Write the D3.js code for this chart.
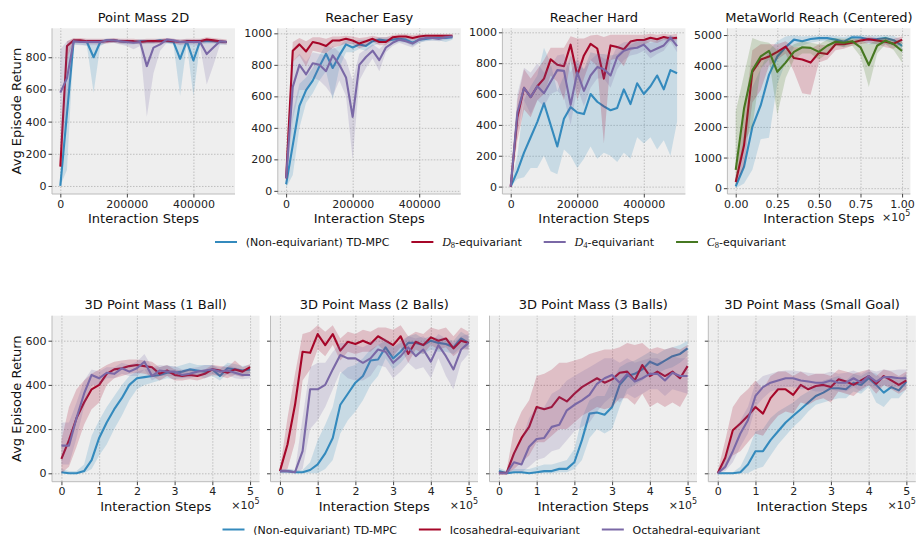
<!DOCTYPE html>
<html lang="en">
<head>
<meta charset="UTF-8" />
<title>Equivariant TD-MPC learning curves</title>
<script src="https://cdn.jsdelivr.net/npm/d3@7"></script>
<style>
  body { margin: 0; background: #fff; }
  svg { font-family: "DejaVu Sans", sans-serif; }
  .band { stroke: none; opacity: 0.2; }
  .data-line { fill: none; stroke-width: 2.1px; stroke-linejoin: round; }
  .grid line { stroke: #b2b2b2; stroke-width: 0.8px; stroke-dasharray: 1.5, 1.5; }
  .grid .domain, .axis .domain { display: none; }
  .axis line { stroke: #444; }
  .axis text { font-family: "DejaVu Sans", sans-serif; font-size: 11px; fill: #222; }
  .title, .label { font-size: 13px; fill: #111; }
  .legend text { font-size: 11px; fill: #111; }
</style>
</head>
<body>
<script>
// x positions of the evaluation points
var stepsTop = [0, 20000, 40000, 60000, 80000, 100000, 120000, 140000, 160000, 180000, 200000, 220000, 240000,
  260000, 280000, 300000, 320000, 340000, 360000, 380000, 400000, 420000, 440000, 460000, 480000, 500000];
var stepsMW = [0, 0.05, 0.1, 0.15, 0.2, 0.25, 0.3, 0.35, 0.4, 0.45, 0.5, 0.55, 0.6, 0.65, 0.7, 0.75, 0.8, 0.85,
  0.9, 0.95, 1.0];
var stepsBottom = [0, 0.2, 0.4, 0.6, 0.8, 1.0, 1.2, 1.4, 1.6, 1.8, 2.0, 2.2, 2.4, 2.6, 2.8, 3.0, 3.2, 3.4, 3.6,
  3.8, 4.0, 4.2, 4.4, 4.6, 4.8, 5.0];

// Point Mass 2D
var pm2dTd = [0, 450, 900, 900, 895, 800, 895, 905, 905, 900, 895, 895, 900, 900, 900, 905, 900, 895, 790, 900, 780, 900, 900, 900, 895, 895];
var pm2dTdLo = [0, 100, 880, 880, 870, 580, 870, 890, 890, 885, 880, 880, 885, 885, 885, 890, 885, 880, 560, 880, 560, 880, 885, 885, 880, 880];
var pm2dTdHi = [10, 800, 915, 910, 905, 905, 905, 915, 915, 910, 905, 905, 910, 910, 910, 915, 910, 905, 905, 910, 905, 910, 910, 910, 905, 905];
var pm2dD8 = [120, 870, 905, 905, 900, 900, 900, 900, 905, 900, 900, 900, 895, 900, 900, 900, 905, 900, 895, 900, 900, 900, 910, 905, 900, 895];
var pm2dD8Lo = [100, 800, 890, 890, 885, 885, 885, 885, 890, 885, 885, 885, 880, 885, 885, 885, 890, 885, 880, 885, 885, 885, 895, 890, 885, 880];
var pm2dD8Hi = [140, 900, 920, 920, 915, 915, 915, 915, 920, 915, 915, 915, 910, 915, 915, 915, 920, 915, 910, 915, 915, 915, 925, 920, 915, 910];
var pm2dD4 = [580, 670, 900, 895, 895, 895, 895, 905, 905, 900, 895, 890, 895, 745, 860, 880, 910, 905, 895, 895, 895, 895, 820, 860, 900, 895];
var pm2dD4Lo = [200, 450, 880, 875, 875, 875, 875, 890, 890, 880, 870, 850, 870, 430, 700, 840, 890, 885, 875, 875, 875, 870, 630, 750, 880, 880];
var pm2dD4Hi = [850, 900, 915, 910, 910, 910, 910, 915, 915, 910, 910, 905, 910, 905, 900, 910, 920, 915, 910, 910, 910, 910, 905, 905, 910, 905];

// Reacher Easy
var reTd = [42, 290, 540, 640, 700, 790, 870, 780, 860, 930, 910, 930, 920, 950, 960, 955, 960, 965, 960, 940, 960, 965, 970, 970, 970, 975];
var reTdLo = [20, 100, 400, 560, 620, 700, 760, 580, 780, 880, 880, 900, 890, 920, 935, 940, 940, 945, 940, 920, 940, 950, 955, 955, 945, 960];
var reTdHi = [70, 500, 680, 720, 780, 860, 930, 900, 920, 960, 950, 960, 960, 970, 975, 975, 975, 980, 980, 970, 975, 980, 985, 985, 985, 985];
var reD8 = [80, 890, 930, 885, 945, 935, 920, 955, 955, 965, 955, 935, 950, 965, 945, 945, 975, 980, 980, 970, 980, 985, 985, 985, 985, 985];
var reD8Lo = [40, 820, 860, 790, 890, 880, 870, 910, 920, 935, 930, 905, 920, 945, 925, 925, 960, 965, 965, 955, 965, 975, 975, 975, 975, 975];
var reD8Hi = [180, 945, 970, 950, 975, 975, 965, 980, 980, 985, 980, 970, 975, 985, 975, 975, 990, 995, 995, 990, 995, 995, 995, 995, 995, 995];
var reD4 = [80, 660, 800, 740, 810, 800, 760, 860, 800, 720, 470, 800, 850, 890, 830, 910, 940, 960, 950, 935, 960, 970, 970, 965, 975, 980];
var reD4Lo = [40, 450, 640, 640, 720, 700, 660, 600, 700, 600, 200, 700, 780, 840, 760, 880, 920, 940, 925, 910, 940, 955, 955, 950, 960, 965];
var reD4Hi = [200, 820, 870, 820, 880, 870, 860, 920, 880, 830, 700, 870, 900, 930, 900, 940, 965, 975, 970, 955, 975, 985, 985, 980, 990, 990];

// Reacher Hard
var rhTd = [0, 100, 220, 320, 420, 540, 400, 260, 440, 515, 480, 470, 600, 550, 520, 495, 510, 630, 535, 670, 600, 650, 720, 630, 755, 735];
var rhTdLo = [0, 50, 60, 120, 120, 200, 100, 80, 240, 200, 120, 180, 260, 180, 220, 200, 160, 220, 180, 320, 280, 320, 240, 300, 200, 420];
var rhTdHi = [10, 200, 560, 650, 720, 900, 800, 620, 720, 850, 800, 760, 870, 860, 860, 850, 860, 900, 920, 940, 950, 960, 960, 960, 980, 970];
var rhD8 = [0, 450, 640, 580, 650, 700, 825, 790, 780, 920, 720, 850, 925, 895, 700, 915, 905, 890, 940, 950, 950, 965, 955, 970, 960, 965];
var rhD8Lo = [0, 300, 500, 450, 560, 600, 720, 680, 560, 820, 560, 700, 820, 780, 280, 820, 830, 780, 880, 900, 920, 940, 930, 950, 940, 950];
var rhD8Hi = [10, 560, 760, 700, 760, 820, 900, 900, 900, 975, 960, 960, 980, 985, 970, 985, 985, 985, 985, 985, 985, 990, 985, 990, 985, 990];
var rhD4 = [0, 480, 640, 580, 650, 605, 680, 755, 750, 530, 740, 620, 720, 775, 760, 720, 840, 880, 895, 900, 920, 875, 895, 915, 965, 910];
var rhD4Lo = [0, 350, 560, 470, 560, 520, 600, 620, 580, 400, 640, 520, 640, 700, 700, 640, 760, 820, 850, 860, 880, 830, 860, 880, 940, 870];
var rhD4Hi = [10, 600, 770, 740, 800, 740, 780, 850, 860, 740, 830, 760, 820, 860, 830, 820, 910, 935, 940, 945, 955, 930, 945, 955, 985, 950];

// MetaWorld Reach (Centered)
var mwTd = [60, 700, 2000, 2700, 3700, 4300, 4600, 4850, 4800, 4870, 4900, 4900, 4850, 4780, 4930, 4920, 4850, 4870, 4900, 4830, 4650];
var mwTdLo = [0, 150, 600, 1600, 1650, 3400, 4100, 4600, 4650, 4750, 4800, 4800, 4700, 4600, 4800, 4800, 4700, 4700, 4700, 4650, 4450];
var mwTdHi = [200, 1800, 3300, 3900, 4500, 4800, 4950, 4990, 4950, 4970, 4980, 4990, 4970, 4940, 5000, 5000, 4980, 4980, 4990, 4970, 4850];
var mwD8 = [200, 1400, 3800, 4200, 4300, 4450, 4620, 4250, 4200, 4100, 4420, 4380, 4700, 4700, 4750, 4820, 4860, 4820, 4780, 4720, 4850];
var mwD8Lo = [100, 700, 2800, 3200, 4000, 4200, 4400, 3800, 3100, 3050, 4100, 4200, 4500, 4550, 4650, 4700, 4750, 4700, 4600, 4550, 4750];
var mwD8Hi = [400, 2400, 4500, 4700, 4700, 4700, 4800, 4600, 4600, 4550, 4700, 4650, 4850, 4850, 4850, 4900, 4950, 4900, 4900, 4880, 4950];
var mwC8 = [600, 2600, 3850, 4300, 4480, 3800, 4100, 4450, 4600, 4580, 4450, 4650, 4780, 4750, 4800, 4600, 4020, 4650, 4820, 4700, 4480];
var mwC8Lo = [100, 1500, 2000, 3900, 4200, 2400, 3600, 4200, 4400, 4400, 4200, 4400, 4650, 4600, 4650, 4300, 3300, 4400, 4700, 4500, 4100];
var mwC8Hi = [2500, 3700, 4900, 4800, 4750, 4500, 4500, 4700, 4800, 4750, 4700, 4850, 4900, 4880, 4900, 4850, 4700, 4850, 4950, 4850, 4800];

// 3D Point Mass (1 Ball)
var b1Td = [5, 0, 0, 10, 60, 160, 230, 290, 340, 400, 430, 435, 440, 445, 455, 455, 460, 470, 465, 460, 470, 440, 475, 470, 465, 470];
var b1TdLo = [0, 0, 0, 0, 20, 80, 130, 200, 260, 330, 380, 400, 410, 420, 430, 425, 430, 440, 440, 430, 440, 420, 450, 445, 440, 445];
var b1TdHi = [20, 10, 10, 40, 170, 240, 300, 350, 400, 440, 460, 470, 475, 480, 490, 480, 490, 500, 490, 490, 490, 470, 500, 495, 485, 490];
var b1Ico = [65, 150, 250, 320, 380, 400, 450, 470, 475, 485, 490, 485, 480, 450, 465, 445, 440, 445, 440, 450, 470, 465, 455, 470, 460, 480];
var b1IcoLo = [0, 30, 120, 220, 290, 320, 400, 430, 440, 450, 455, 450, 440, 420, 440, 420, 420, 425, 420, 430, 445, 440, 430, 445, 435, 455];
var b1IcoHi = [150, 300, 380, 420, 450, 470, 490, 505, 510, 515, 515, 510, 505, 480, 490, 470, 465, 470, 460, 470, 490, 485, 480, 510, 480, 495];
var b1Oct = [125, 125, 250, 360, 445, 430, 455, 450, 475, 460, 475, 505, 440, 465, 460, 460, 445, 450, 460, 465, 470, 460, 465, 455, 445, 445];
var b1OctLo = [40, 40, 160, 300, 400, 400, 430, 430, 450, 440, 440, 470, 420, 440, 440, 440, 430, 430, 440, 445, 450, 440, 445, 430, 425, 430];
var b1OctHi = [230, 230, 320, 420, 470, 460, 480, 480, 500, 490, 505, 540, 480, 490, 485, 485, 470, 475, 480, 490, 490, 480, 490, 480, 470, 470];

// 3D Point Mass (2 Balls)
var b2Td = [10, 10, 5, 5, 15, 40, 90, 160, 310, 360, 410, 440, 510, 515, 570, 520, 550, 590, 590, 580, 600, 590, 585, 570, 610, 590];
var b2TdLo = [0, 0, 0, 0, 0, 0, 20, 60, 180, 240, 280, 330, 400, 440, 520, 470, 500, 540, 540, 540, 560, 550, 550, 540, 570, 560];
var b2TdHi = [20, 20, 15, 15, 50, 150, 220, 300, 450, 480, 490, 520, 560, 580, 600, 570, 590, 620, 630, 610, 620, 610, 610, 600, 640, 620];
var b2Ico = [10, 130, 310, 550, 545, 630, 580, 630, 555, 595, 585, 600, 585, 620, 600, 580, 620, 540, 595, 580, 615, 600, 610, 565, 600, 590];
var b2IcoLo = [0, 20, 140, 420, 470, 560, 530, 580, 510, 550, 540, 550, 550, 580, 550, 530, 570, 500, 560, 540, 580, 560, 570, 530, 560, 560];
var b2IcoHi = [20, 250, 450, 630, 640, 670, 640, 670, 610, 640, 630, 650, 640, 660, 660, 650, 670, 620, 640, 630, 660, 650, 660, 620, 660, 640];
var b2Oct = [10, 10, 5, 100, 380, 380, 400, 470, 535, 520, 520, 500, 520, 560, 550, 500, 530, 570, 530, 560, 505, 580, 530, 470, 560, 590];
var b2OctLo = [0, 0, 0, 20, 200, 240, 300, 380, 460, 430, 420, 420, 440, 490, 480, 430, 460, 500, 470, 480, 430, 520, 440, 380, 500, 540];
var b2OctHi = [20, 20, 15, 250, 480, 500, 500, 550, 590, 590, 580, 570, 590, 610, 610, 570, 600, 620, 610, 620, 590, 630, 610, 590, 620, 630];

// 3D Point Mass (3 Balls)
var b3Td = [10, 0, 5, 5, 0, 5, 10, 10, 20, 20, 50, 150, 270, 275, 265, 300, 400, 440, 450, 470, 505, 490, 510, 530, 540, 565];
var b3TdLo = [0, 0, 0, 0, 0, 0, 0, 0, 5, 5, 20, 60, 160, 200, 180, 200, 300, 380, 400, 420, 450, 450, 470, 480, 500, 530];
var b3TdHi = [25, 10, 20, 20, 20, 30, 40, 40, 50, 60, 110, 250, 330, 350, 350, 420, 480, 500, 510, 530, 550, 540, 560, 570, 580, 600];
var b3Ico = [0, 0, 90, 160, 210, 300, 290, 300, 345, 325, 360, 390, 410, 430, 410, 425, 455, 460, 420, 490, 440, 460, 440, 460, 430, 485];
var b3IcoLo = [0, 0, 20, 50, 80, 140, 140, 170, 200, 200, 230, 260, 280, 300, 290, 300, 340, 340, 310, 360, 300, 320, 300, 320, 300, 360];
var b3IcoHi = [10, 10, 200, 280, 330, 440, 450, 470, 500, 500, 510, 520, 540, 550, 560, 560, 570, 590, 580, 590, 560, 570, 560, 570, 560, 580];
var b3Oct = [0, 0, 50, 40, 120, 155, 160, 210, 220, 285, 310, 330, 355, 405, 430, 445, 410, 450, 415, 430, 450, 450, 420, 455, 440, 440];
var b3OctLo = [0, 0, 10, 5, 30, 60, 70, 100, 110, 150, 190, 210, 230, 280, 320, 350, 320, 360, 340, 360, 380, 380, 350, 380, 370, 360];
var b3OctHi = [10, 10, 100, 150, 250, 300, 300, 360, 380, 420, 440, 460, 480, 500, 520, 520, 500, 520, 500, 510, 520, 520, 500, 530, 520, 520];

// 3D Point Mass (Small Goal)
var sgTd = [0, 0, 0, 5, 40, 100, 100, 150, 190, 230, 260, 290, 320, 350, 365, 385, 385, 380, 410, 400, 430, 400, 365, 390, 375, 415];
var sgTdLo = [0, 0, 0, 0, 0, 20, 30, 80, 130, 170, 210, 240, 280, 310, 320, 330, 340, 340, 370, 360, 390, 320, 300, 340, 340, 380];
var sgTdHi = [5, 5, 5, 30, 100, 190, 200, 250, 280, 300, 320, 350, 370, 390, 420, 430, 440, 420, 450, 440, 460, 450, 420, 440, 420, 450];
var sgIco = [0, 70, 195, 225, 260, 300, 270, 340, 380, 380, 355, 400, 380, 395, 400, 390, 425, 415, 400, 420, 440, 405, 440, 420, 400, 420];
var sgIcoLo = [0, 20, 80, 100, 140, 180, 170, 220, 260, 280, 270, 320, 310, 330, 340, 320, 370, 360, 350, 380, 400, 360, 400, 380, 360, 380];
var sgIcoHi = [10, 150, 300, 350, 380, 420, 380, 440, 460, 460, 440, 460, 440, 450, 450, 440, 470, 460, 450, 460, 470, 440, 470, 460, 440, 460];
var sgOct = [0, 30, 100, 180, 240, 350, 390, 410, 420, 430, 430, 420, 415, 410, 410, 420, 410, 410, 430, 410, 440, 415, 435, 435, 430, 430];
var sgOctLo = [0, 10, 50, 120, 180, 300, 340, 370, 380, 390, 390, 380, 380, 370, 370, 380, 370, 370, 390, 370, 400, 380, 400, 390, 390, 390];
var sgOctHi = [5, 70, 180, 240, 300, 410, 440, 450, 460, 465, 465, 460, 455, 450, 450, 460, 450, 455, 465, 450, 470, 460, 470, 465, 470, 470];

var blue = "#348ABD", red = "#A60628", purple = "#7A68A6", green = "#467821";

var w = 917;
var h = 535;

var topRow = {top: 28.3, height: 165.7, width: 183};
var bottomRow = {top: 315.7, height: 166, width: 207.5};

var panels = [
  {title: "Point Mass 2D", row: topRow, left: 52, x: stepsTop, xDomain: [-25000, 525000], yDomain: [-50, 980],
    xTicks: [0, 200000, 400000], yTicks: [0, 200, 400, 600, 800], xFormat: d3.format("d"), yLabels: true,
    series: [[blue, pm2dTd, pm2dTdLo, pm2dTdHi], [red, pm2dD8, pm2dD8Lo, pm2dD8Hi], [purple, pm2dD4, pm2dD4Lo, pm2dD4Hi]]},
  {title: "Reacher Easy", row: topRow, left: 277.8, x: stepsTop, xDomain: [-25000, 525000], yDomain: [-20, 1032],
    xTicks: [0, 200000, 400000], yTicks: [0, 200, 400, 600, 800, 1000], xFormat: d3.format("d"), yLabels: true,
    series: [[blue, reTd, reTdLo, reTdHi], [red, reD8, reD8Lo, reD8Hi], [purple, reD4, reD4Lo, reD4Hi]]},
  {title: "Reacher Hard", row: topRow, left: 502.4, x: stepsTop, xDomain: [-25000, 525000], yDomain: [-48, 1026],
    xTicks: [0, 200000, 400000], yTicks: [0, 200, 400, 600, 800, 1000], xFormat: d3.format("d"), yLabels: true,
    series: [[blue, rhTd, rhTdLo, rhTdHi], [red, rhD8, rhD8Lo, rhD8Hi], [purple, rhD4, rhD4Lo, rhD4Hi]]},
  {title: "MetaWorld Reach (Centered)", row: topRow, left: 727.4, x: stepsMW, xDomain: [-0.05, 1.05], yDomain: [-190, 5220],
    xTicks: [0, 0.25, 0.5, 0.75, 1.0], yTicks: [0, 1000, 2000, 3000, 4000, 5000], xFormat: d3.format(".2f"), yLabels: true, sci: true,
    series: [[blue, mwTd, mwTdLo, mwTdHi], [red, mwD8, mwD8Lo, mwD8Hi], [green, mwC8, mwC8Lo, mwC8Hi]]},
  {title: "3D Point Mass (1 Ball)", row: bottomRow, left: 52, x: stepsBottom, xDomain: [-0.25, 5.25], yDomain: [-38, 713],
    xTicks: [0, 1, 2, 3, 4, 5], yTicks: [0, 200, 400, 600], xFormat: d3.format("d"), yLabels: true, sci: true,
    series: [[blue, b1Td, b1TdLo, b1TdHi], [red, b1Ico, b1IcoLo, b1IcoHi], [purple, b1Oct, b1OctLo, b1OctHi]]},
  {title: "3D Point Mass (2 Balls)", row: bottomRow, left: 270.5, x: stepsBottom, xDomain: [-0.25, 5.25], yDomain: [-38, 713],
    xTicks: [0, 1, 2, 3, 4, 5], yTicks: [0, 200, 400, 600], xFormat: d3.format("d"), yLabels: false, sci: true,
    series: [[blue, b2Td, b2TdLo, b2TdHi], [red, b2Ico, b2IcoLo, b2IcoHi], [purple, b2Oct, b2OctLo, b2OctHi]]},
  {title: "3D Point Mass (3 Balls)", row: bottomRow, left: 489.5, x: stepsBottom, xDomain: [-0.25, 5.25], yDomain: [-38, 713],
    xTicks: [0, 1, 2, 3, 4, 5], yTicks: [0, 200, 400, 600], xFormat: d3.format("d"), yLabels: false, sci: true,
    series: [[blue, b3Td, b3TdLo, b3TdHi], [red, b3Ico, b3IcoLo, b3IcoHi], [purple, b3Oct, b3OctLo, b3OctHi]]},
  {title: "3D Point Mass (Small Goal)", row: bottomRow, left: 708.3, x: stepsBottom, xDomain: [-0.25, 5.25], yDomain: [-38, 713],
    xTicks: [0, 1, 2, 3, 4, 5], yTicks: [0, 200, 400, 600], xFormat: d3.format("d"), yLabels: false, sci: true,
    series: [[blue, sgTd, sgTdLo, sgTdHi], [red, sgIco, sgIcoLo, sgIcoHi], [purple, sgOct, sgOctLo, sgOctHi]]}
];

var svg = d3.select("body").append("svg")
  .attr("width", w)
  .attr("height", h);

panels.forEach(function(p) {
  var pw = p.row.width, ph = p.row.height;
  var g = svg.append("g")
    .attr("transform", "translate(" + p.left + "," + p.row.top + ")");

  var xScale = d3.scaleLinear().domain(p.xDomain).range([0, pw]);
  var yScale = d3.scaleLinear().domain(p.yDomain).range([ph, 0]);

  g.append("rect")
    .attr("width", pw)
    .attr("height", ph)
    .attr("fill", "#eeeeee");

  // dotted grid
  g.append("g")
    .attr("class", "grid")
    .attr("transform", "translate(0," + ph + ")")
    .call(d3.axisBottom(xScale).tickValues(p.xTicks).tickSize(-ph).tickFormat(""));
  g.append("g")
    .attr("class", "grid")
    .call(d3.axisLeft(yScale).tickValues(p.yTicks).tickSize(-pw).tickFormat(""));

  p.series.forEach(function(s) {
    var rows = p.x.map(function(v, i) {
      return {x: v, m: s[1][i], lo: s[2][i], hi: s[3][i]};
    });
    var area = d3.area()
      .x(function(d) { return xScale(d.x); })
      .y0(function(d) { return yScale(d.lo); })
      .y1(function(d) { return yScale(d.hi); });
    var line = d3.line()
      .x(function(d) { return xScale(d.x); })
      .y(function(d) { return yScale(d.m); });
    g.append("path")
      .datum(rows)
      .attr("class", "band")
      .attr("fill", s[0])
      .attr("d", area);
    g.append("path")
      .datum(rows)
      .attr("class", "data-line")
      .attr("stroke", s[0])
      .attr("d", line);
  });

  // spines
  g.append("line").attr("x1", 0).attr("x2", 0).attr("y1", 0).attr("y2", ph)
    .attr("stroke", "#bcbcbc");
  g.append("line").attr("x1", 0).attr("x2", pw).attr("y1", ph).attr("y2", ph)
    .attr("stroke", "#bcbcbc");

  var xAxis = d3.axisBottom(xScale)
    .tickValues(p.xTicks)
    .tickSize(3.5)
    .tickPadding(2.5)
    .tickFormat(p.xFormat);
  g.append("g")
    .attr("class", "axis")
    .attr("transform", "translate(0," + ph + ")")
    .call(xAxis);

  var yAxis = d3.axisLeft(yScale)
    .tickValues(p.yTicks)
    .tickSize(3.5)
    .tickPadding(2)
    .tickFormat(p.yLabels ? d3.format("d") : "");
  g.append("g")
    .attr("class", "axis")
    .call(yAxis);

  g.append("text")
    .attr("class", "title")
    .attr("x", pw / 2)
    .attr("y", -6.5)
    .attr("text-anchor", "middle")
    .text(p.title);

  g.append("text")
    .attr("class", "label")
    .attr("x", pw / 2)
    .attr("y", ph + 29)
    .attr("text-anchor", "middle")
    .text("Interaction Steps");

  if (p.sci) {
    var off = g.append("text")
      .attr("x", pw)
      .attr("y", ph + 27)
      .attr("text-anchor", "end")
      .style("font-size", "11px")
      .style("fill", "#222");
    off.append("tspan").text("\u00d710");
    off.append("tspan").attr("dy", -5).style("font-size", "8px").text("5");
  }
});

// shared y labels
[topRow, bottomRow].forEach(function(r) {
  svg.append("text")
    .attr("class", "label")
    .attr("transform", "translate(20.5," + (r.top + r.height / 2) + ") rotate(-90)")
    .attr("text-anchor", "middle")
    .text("Avg Episode Return");
});

// legends
var legendTop = [
  {color: blue, text: "(Non-equivariant) TD-MPC"},
  {color: red, sym: "D", sub: "8", text: "-equivariant"},
  {color: purple, sym: "D", sub: "4", text: "-equivariant"},
  {color: green, sym: "C", sub: "8", text: "-equivariant"}
];
var legendBottom = [
  {color: blue, text: "(Non-equivariant) TD-MPC"},
  {color: red, text: "Icosahedral-equivariant"},
  {color: purple, text: "Octahedral-equivariant"}
];

function drawLegend(items, x0, y) {
  var lg = svg.append("g").attr("class", "legend");
  var x = x0;
  items.forEach(function(it) {
    lg.append("line")
      .attr("x1", x).attr("x2", x + 22)
      .attr("y1", y).attr("y2", y)
      .attr("stroke", it.color)
      .attr("stroke-width", 2);
    var t = lg.append("text")
      .attr("x", x + 30.8)
      .attr("y", y + 4);
    if (it.sym) {
      t.append("tspan")
        .style("font-family", "'Liberation Serif', serif")
        .style("font-style", "italic")
        .style("font-size", "12px")
        .text(it.sym);
      t.append("tspan")
        .attr("dy", 2)
        .style("font-family", "'Liberation Serif', serif")
        .style("font-size", "8.5px")
        .text(it.sub);
      t.append("tspan").attr("dy", -2).text(it.text);
    } else {
      t.text(it.text);
    }
    x = x + 30.8 + t.node().getComputedTextLength() + 22;
  });
}

drawLegend(legendTop, 215, 242);
drawLegend(legendBottom, 222.5, 529.5);
</script>
</body>
</html>
